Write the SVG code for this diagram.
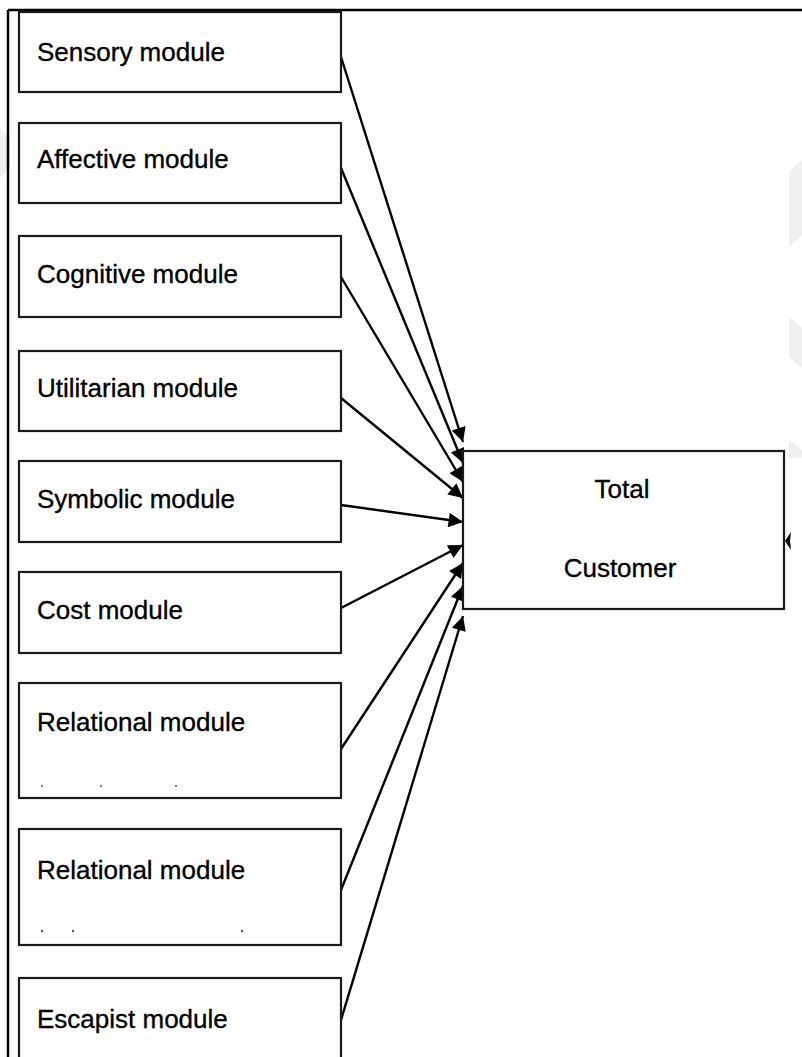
<svg xmlns="http://www.w3.org/2000/svg" width="802" height="1057" viewBox="0 0 802 1057">
  <style>
    .box { fill: #ffffff; stroke: #1a1a1a; stroke-width: 2.2; }
    .label { font-family: "Liberation Sans", Arial, sans-serif; font-size: 26px; fill: #000000; stroke: #000000; stroke-width: 0.35px; }
    .center { text-anchor: middle; }
    .link { stroke: #000000; stroke-width: 2.4; fill: none; marker-end: url(#arrow); }
    .frame { stroke: #000000; stroke-width: 2.5; fill: none; }
    .dot { fill: #555555; }
    .wm { fill: #efefef; }
  </style>
  <defs>
    <marker id="arrow" viewBox="0 0 10 10" refX="10" refY="5" markerWidth="7" markerHeight="6" markerUnits="strokeWidth" orient="auto">
      <path d="M0,0 L10,5 L0,10 Z" fill="#000000"/>
    </marker>
  </defs>

  <rect x="0" y="0" width="802" height="1057" fill="#ffffff"/>

  <!-- faint background mark fragments -->
  <g id="background-marks">
    <polygon class="wm" points="789,172 802,160 802,235 789,247"/>
    <polygon class="wm" points="789,317 802,328 802,368 789,357"/>
    <polygon class="wm" points="789,440 802,450 802,458 789,458"/>
    <polygon class="wm" points="0,128 10,138 10,168 0,178"/>
  </g>

  <!-- page frame -->
  <g id="frame">
    <line class="frame" x1="8" y1="10" x2="802" y2="10"/>
    <line class="frame" x1="8" y1="10" x2="8" y2="1057"/>
  </g>

  <!-- connectors -->
  <g id="connectors">
    <line class="link" x1="341" y1="57" x2="463" y2="442"/>
    <line class="link" x1="341" y1="168" x2="463" y2="463"/>
    <line class="link" x1="341" y1="277" x2="463" y2="482"/>
    <line class="link" x1="341" y1="398" x2="463" y2="498"/>
    <line class="link" x1="341" y1="505" x2="463" y2="522"/>
    <line class="link" x1="341" y1="608" x2="463" y2="545"/>
    <line class="link" x1="341" y1="749" x2="463" y2="563"/>
    <line class="link" x1="341" y1="890" x2="463" y2="586"/>
    <line class="link" x1="341" y1="1020" x2="463" y2="616"/>
    <polygon points="785,541 791,532 790,541 791,550" fill="#000000"/>
  </g>

  <g id="sensory">
    <rect class="box" x="19" y="12" width="322" height="80"/>
    <text class="label" x="37" y="61">Sensory module</text>
  </g>
  <g id="affective">
    <rect class="box" x="19" y="123" width="322" height="80"/>
    <text class="label" x="37" y="168">Affective module</text>
  </g>
  <g id="cognitive">
    <rect class="box" x="19" y="236" width="322" height="81"/>
    <text class="label" x="37" y="283">Cognitive module</text>
  </g>
  <g id="utilitarian">
    <rect class="box" x="19" y="351" width="322" height="80"/>
    <text class="label" x="37" y="397">Utilitarian module</text>
  </g>
  <g id="symbolic">
    <rect class="box" x="19" y="461" width="322" height="81"/>
    <text class="label" x="37" y="508">Symbolic module</text>
  </g>
  <g id="cost">
    <rect class="box" x="19" y="572" width="322" height="81"/>
    <text class="label" x="37" y="619">Cost module</text>
  </g>
  <g id="relational-1">
    <rect class="box" x="19" y="683" width="322" height="115"/>
    <text class="label" x="37" y="731">Relational module</text>
    <circle class="dot" cx="42" cy="786" r="1"/>
    <circle class="dot" cx="101" cy="786" r="1"/>
    <circle class="dot" cx="176" cy="786" r="1"/>
  </g>
  <g id="relational-2">
    <rect class="box" x="19" y="829" width="322" height="116"/>
    <text class="label" x="37" y="879">Relational module</text>
    <circle class="dot" cx="42" cy="931" r="1.2"/>
    <circle class="dot" cx="73" cy="931" r="1.2"/>
    <circle class="dot" cx="242" cy="931" r="1.2"/>
  </g>
  <g id="escapist">
    <rect class="box" x="19" y="978" width="322" height="100"/>
    <text class="label" x="37" y="1028">Escapist module</text>
  </g>

  <g id="total-customer">
    <rect class="box" x="463" y="451" width="321" height="158"/>
    <text class="label center" x="622" y="498">Total</text>
    <text class="label center" x="620" y="577">Customer</text>
  </g>
</svg>
